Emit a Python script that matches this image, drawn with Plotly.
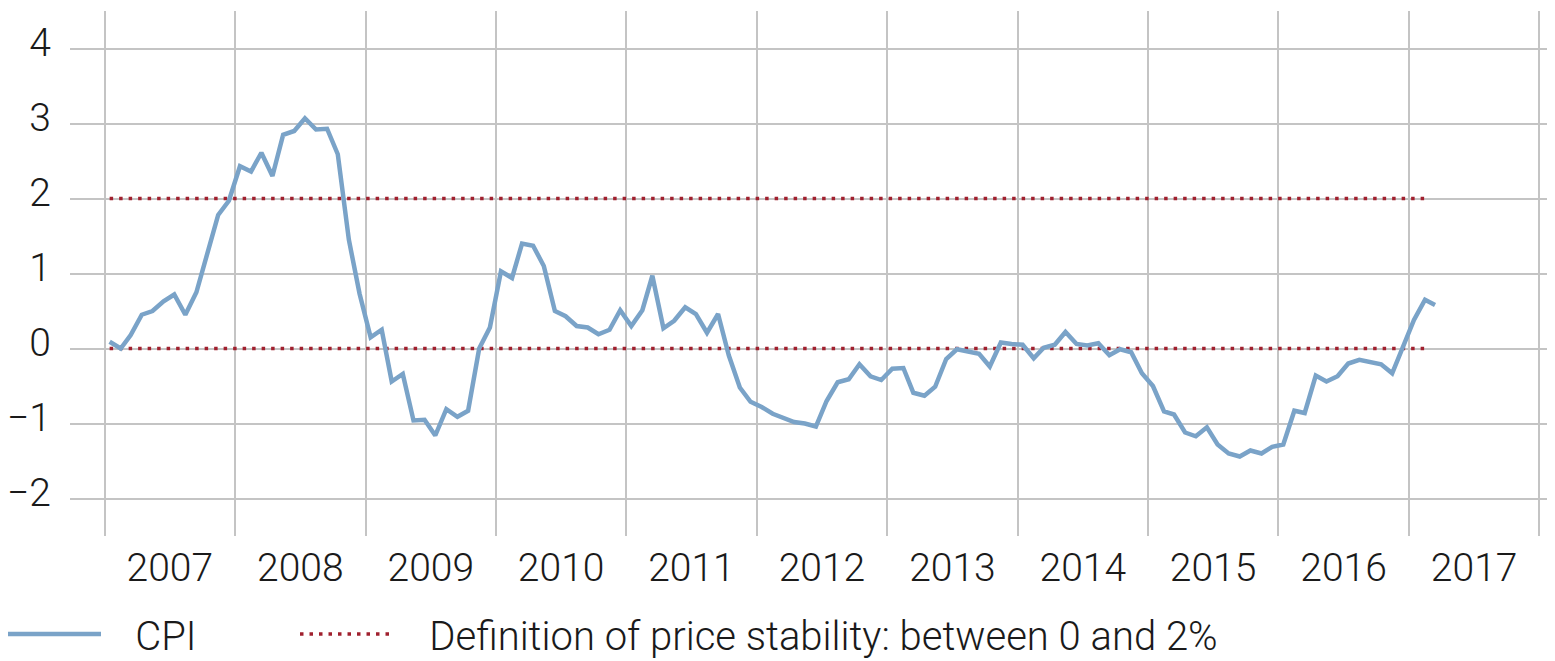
import pandas as pd
import plotly.graph_objects as go

# Monthly CPI, year-on-year change in %, Jan 2007 - Mar 2017
cpi_2007 = [0.09, 0.0, 0.18, 0.45, 0.5, 0.63, 0.72, 0.45, 0.75, 1.26, 1.78, 1.97]
cpi_2008 = [2.43, 2.36, 2.61, 2.30, 2.85, 2.9, 3.07, 2.92, 2.93, 2.59, 1.45, 0.73]
cpi_2009 = [0.15, 0.25, -0.44, -0.34, -0.96, -0.95, -1.16, -0.81, -0.91, -0.83, 0.0, 0.28]
cpi_2010 = [1.03, 0.94, 1.40, 1.37, 1.10, 0.50, 0.43, 0.30, 0.28, 0.19, 0.25, 0.51]
cpi_2011 = [0.30, 0.51, 0.97, 0.27, 0.37, 0.55, 0.46, 0.21, 0.46, -0.09, -0.52, -0.71]
cpi_2012 = [-0.78, -0.87, -0.93, -0.98, -1.0, -1.04, -0.70, -0.45, -0.41, -0.21, -0.37, -0.42]
cpi_2013 = [-0.27, -0.26, -0.59, -0.63, -0.51, -0.14, -0.01, -0.04, -0.07, -0.24, 0.08, 0.06]
cpi_2014 = [0.05, -0.13, 0.01, 0.05, 0.22, 0.06, 0.04, 0.07, -0.09, -0.01, -0.05, -0.33]
cpi_2015 = [-0.50, -0.84, -0.88, -1.12, -1.17, -1.05, -1.28, -1.40, -1.44, -1.36, -1.40, -1.31]
cpi_2016 = [-1.28, -0.83, -0.86, -0.36, -0.44, -0.37, -0.20, -0.15, -0.18, -0.21, -0.33, 0.03]
cpi_2017 = [0.38, 0.65, 0.58]

cpi = (cpi_2007 + cpi_2008 + cpi_2009 + cpi_2010 + cpi_2011 + cpi_2012 +
       cpi_2013 + cpi_2014 + cpi_2015 + cpi_2016 + cpi_2017)
months = pd.date_range("2007-01-01", periods=len(cpi), freq="MS") + pd.Timedelta(days=14)

# Price stability band: between 0 and 2 %
stability_lower = 0
stability_upper = 2
band_months = months[:-1]

blue = "#7aa3c8"
red = "#a0202e"
grid = "#c4c4c4"
font_family = "Roboto, 'Liberation Sans', Arial, sans-serif"
pad = "\u00a0\u00a0\u00a0"

# the page body adds an 8 px margin around the figure
W, H = 1547, 653
plot_w = 1485.0
plot_h = 525.0

fig = go.Figure()
fig.add_trace(go.Scatter(
    x=band_months, y=[stability_upper] * len(band_months), mode="lines",
    line=dict(color=red, width=3.5, dash="3.5px,6px"),
    name=pad + "Definition of price stability: between 0 and 2%",
    legend="legend2", hoverinfo="skip"))
fig.add_trace(go.Scatter(
    x=band_months, y=[stability_lower] * len(band_months), mode="lines",
    line=dict(color=red, width=3.5, dash="3.5px,6px"),
    showlegend=False, hoverinfo="skip"))
fig.add_trace(go.Scatter(
    x=months, y=cpi, mode="lines", name=pad + "CPI", legend="legend",
    line=dict(color=blue, width=4.5)))

legend_common = dict(orientation="h", xanchor="left", yanchor="middle",
                     y=-98 / plot_h, font=dict(size=40, weight=300),
                     itemwidth=95, bgcolor="rgba(0,0,0,0)")

fig.update_layout(
    width=W, height=H,
    margin=dict(l=62, r=0, t=3, b=125, autoexpand=False),
    paper_bgcolor="white", plot_bgcolor="white",
    font=dict(family=font_family, size=39, color="#1a1a1a", weight=300),
    showlegend=True,
    legend=dict(x=-69 / plot_w, **legend_common),
    legend2=dict(x=225 / plot_w, **legend_common),
)
fig.update_xaxes(
    type="date", range=["2006-09-26", "2018-02-14"],
    dtick="M12", tick0="2007-01-01", ticklabelmode="period",
    tickformat="%Y", showgrid=True, gridcolor=grid, gridwidth=1.5,
    showline=False, zeroline=False, ticks="", ticklabelstandoff=5,
    automargin=False,
)
fig.update_yaxes(
    range=[-2.5, 4.5], tickvals=[-2, -1, 0, 1, 2, 3, 4],
    showgrid=True, gridcolor=grid, gridwidth=1.5,
    showline=False, zeroline=False, ticks="", ticklabelstandoff=18,
    ticklabelshift=-6, automargin=False,
)

fig.write_html("out.html")
